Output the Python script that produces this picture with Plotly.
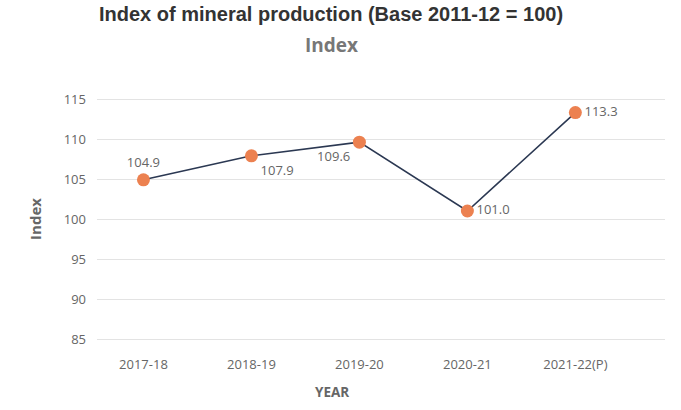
import plotly.graph_objects as go

years = ["2017-18", "2018-19", "2019-20", "2020-21", "2021-22(P)"]
index_values = [104.9, 107.9, 109.6, 101.0, 113.3]
value_labels = ["104.9", "107.9", "109.6", "101.0", "113.3"]
label_positions = ["top center", "bottom right", "bottom left", "middle right", "middle right"]
y_ticks = [85, 90, 95, 100, 105, 110, 115]

tick_font = dict(family="Open Sans, Noto Sans, sans-serif", size=13, color="#666666")

fig = go.Figure()
fig.add_trace(go.Scatter(
    x=years, y=index_values,
    mode="lines+markers+text",
    line=dict(color="#2b3852", width=1.6),
    marker=dict(size=13, color="#ec8150"),
    text=value_labels,
    textposition=label_positions,
    textfont=tick_font,
    cliponaxis=False,
    showlegend=False,
    hoverinfo="skip",
))

fig.update_layout(
    width=681, height=410,
    paper_bgcolor="white", plot_bgcolor="white",
    margin=dict(l=97, r=16, t=91, b=63),
    xaxis=dict(
        type="category", range=[-0.43, 4.83],
        showgrid=False, showline=False, zeroline=False,
        tickfont=tick_font, ticks="", ticklabelstandoff=8,
    ),
    yaxis=dict(
        range=[84, 116], tickvals=y_ticks,
        showgrid=True, gridcolor="#e3e3e3", gridwidth=1,
        zeroline=False, showline=False,
        tickfont=tick_font, ticks="", ticklabelstandoff=10,
        title=dict(text="<b>Index</b>", font=dict(family="Open Sans, sans-serif", size=15, color="#666666"), standoff=18),
    ),
    annotations=[
        dict(text="<b>Index of mineral production (Base 2011-12 = 100)</b>",
             xref="paper", yref="paper", x=0.412, y=1.0, yshift=77,
             xanchor="center", yanchor="middle", showarrow=False,
             font=dict(family="Liberation Sans, Arial, sans-serif", size=20, color="#333333")),
        dict(text="<b>Index</b>",
             xref="paper", yref="paper", x=0.412, y=1.0, yshift=46,
             xanchor="center", yanchor="middle", showarrow=False,
             font=dict(family="Open Sans, sans-serif", size=19, color="#777777")),
        dict(text="<b>YEAR</b>",
             xref="paper", yref="paper", x=0.414, y=0.0, yshift=-45,
             xanchor="center", yanchor="middle", showarrow=False,
             font=dict(family="Open Sans, sans-serif", size=13.5, color="#666666")),
    ],
)

fig.write_html("out.html", config={"displayModeBar": False},
               post_script="document.body.style.margin='0';")
